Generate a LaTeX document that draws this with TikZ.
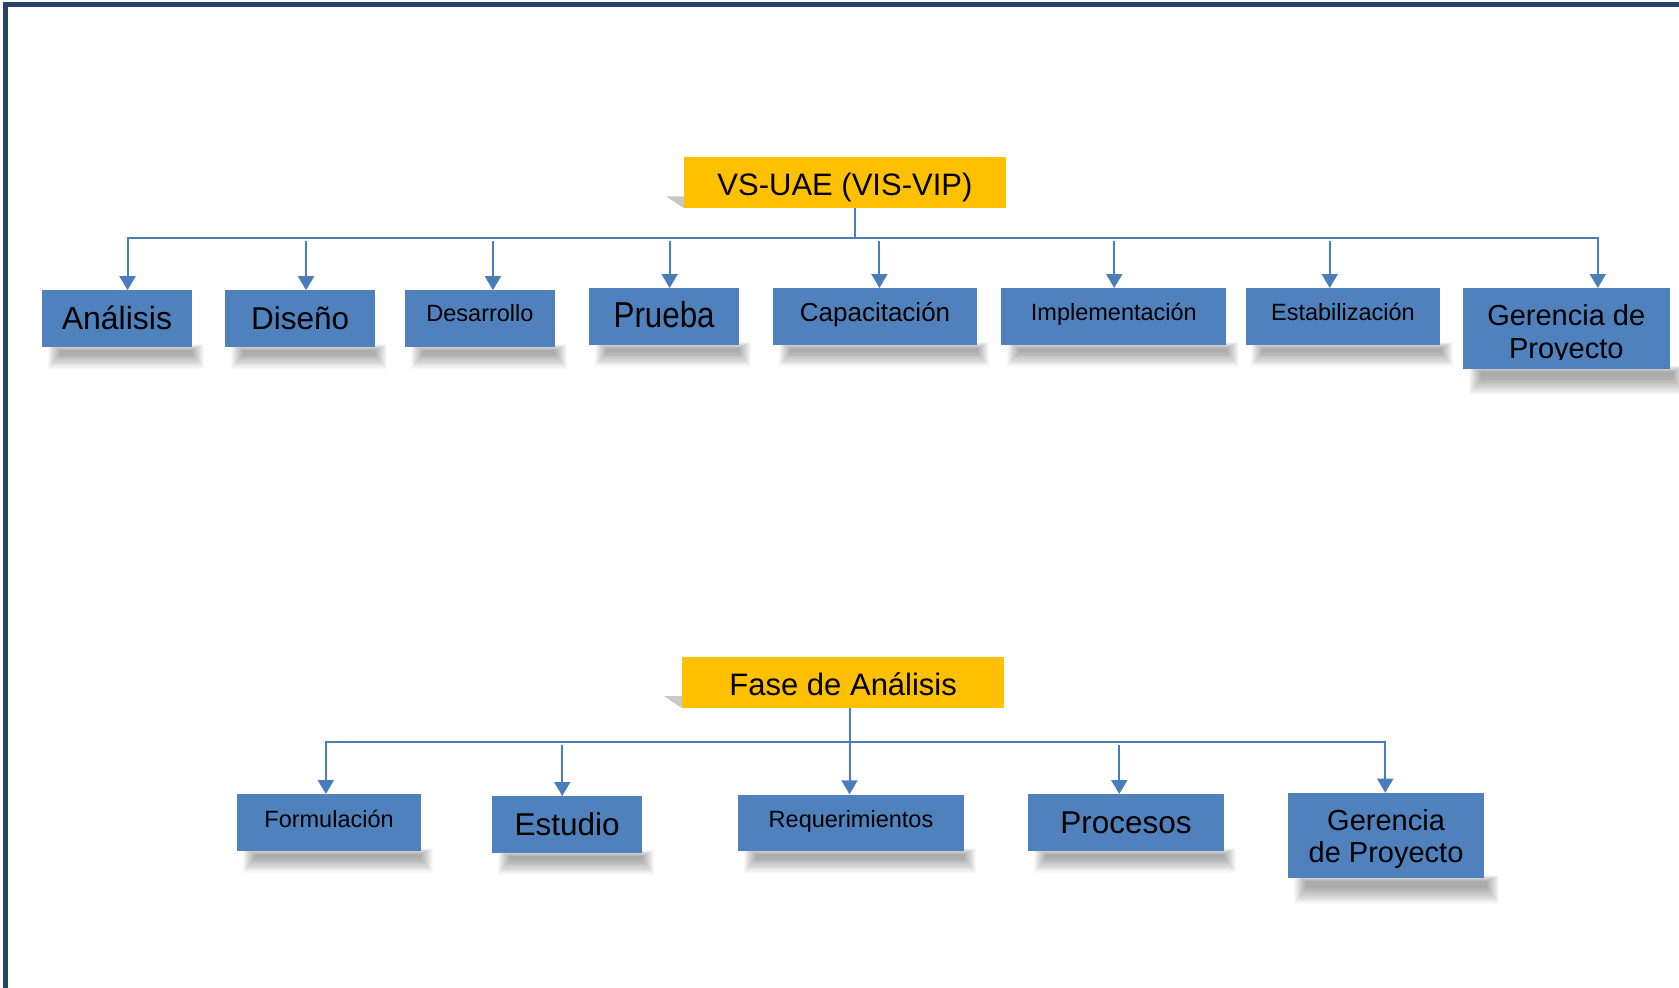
\documentclass[tikz,border=0pt]{standalone}
\usepackage{fontspec}
\setmainfont{Liberation Sans}
\usepackage{graphicx}
\usetikzlibrary{arrows.meta,backgrounds}

\definecolor{boxblue}{RGB}{79,129,189}
\definecolor{hdryellow}{RGB}{255,192,0}
\definecolor{linkblue}{RGB}{74,126,187}
\definecolor{framenavy}{RGB}{39,67,106}
\definecolor{cornergray}{RGB}{200,200,200}

\tikzset{
  box/.style={fill=boxblue, inner sep=0pt, anchor=north west, minimum height=56.7pt},
  hdr/.style={fill=hdryellow, inner sep=0pt, anchor=north west, minimum width=321.5pt, minimum height=51pt},
  txt/.style={inner sep=0pt, anchor=base, text=black},
  bigtxt/.style={txt, font=\fontsize{31.5}{37}\selectfont},
  smalltxt/.style={txt, font=\fontsize{23.5}{28}\selectfont},
  midtxt/.style={txt, font=\fontsize{26}{30}\selectfont},
  twotxt/.style={txt, font=\fontsize{29}{33}\selectfont},
  hdrtxt/.style={txt, font=\fontsize{31}{37}\selectfont},
  link/.style={draw=linkblue, line width=2pt},
  arr/.style={link, -{Triangle[width=16pt,length=14pt]}},
  shadowlayer/.style={fill=black, fill opacity=0.026},
}

\begin{document}
\begin{tikzpicture}[x=1pt, y=-1pt]
  \clip (0,0) rectangle (1679,988);

  % page frame, open to the right and bottom
  \draw[framenavy, line width=5pt] (5.8,1000) -- (5.8,4.5) -- (1700,4.5);

  % ---------- upper chart ----------
  \node[hdr] (vs) at (684,157) {};
  \node[hdrtxt] (vs-t) at ([yshift=-38pt]vs.north) {VS-UAE (VIS-VIP)};

  \node[box, minimum width=149.9pt] (ana) at (41.8,290.2) {};
  \node[box, minimum width=149.9pt] (dis) at (224.9,290.2) {};
  \node[box, minimum width=149.9pt] (des) at (404.8,290.2) {};
  \node[box, minimum width=149.9pt] (pru) at (589,288) {};
  \node[box, minimum width=203.5pt] (cap) at (773.1,288) {};
  \node[box, minimum width=224.9pt] (imp) at (1001.2,288) {};
  \node[box, minimum width=194.9pt] (est) at (1245.3,288) {};
  \node[box, minimum width=206.7pt, minimum height=80.4pt] (gp) at (1462.7,288) {};

  \node[bigtxt, font=\fontsize{32}{37}\selectfont] (ana-t) at ([yshift=-39pt]ana.north) {Análisis};
  \node[bigtxt] (dis-t) at ([yshift=-39pt]dis.north) {Diseño};
  \node[smalltxt] (des-t) at ([yshift=-31.7pt]des.north) {Desarrollo};
  \node[txt, font=\fontsize{36}{40}\selectfont] (pru-t) at ([yshift=-39.3pt]pru.north) {\scalebox{0.87}[1]{Prueba}};
  \node[midtxt] (cap-t) at ([yshift=-33.7pt]cap.north) {Capacitación};
  \node[smalltxt] (imp-t) at ([yshift=-32pt]imp.north) {Implementación};
  \node[smalltxt] (est-t) at ([yshift=-32pt]est.north) {Estabilización};
  \node[twotxt] (gp-t1) at ([yshift=-37pt]gp.north) {Gerencia de};
  \begin{scope}
    \clip (gp.north west) rectangle ([yshift=9pt]gp.south east);
    \node[twotxt] (gp-t2) at ([yshift=-70.3pt]gp.north) {Proyecto};
  \end{scope}

  % entry points of the upper connectors
  \coordinate (hubT) at (854.7,237.5);
  \coordinate (busT) at (0,241);
  \coordinate (ana-in) at ([xshift=10.6pt]ana.north);
  \coordinate (dis-in) at ([xshift=6pt]dis.north);
  \coordinate (des-in) at ([xshift=13pt]des.north);
  \coordinate (pru-in) at ([xshift=5.5pt]pru.north);
  \coordinate (cap-in) at ([xshift=4.4pt]cap.north);
  \coordinate (imp-in) at ([xshift=0.4pt]imp.north);
  \coordinate (est-in) at ([xshift=-13.2pt]est.north);
  \coordinate (gp-in) at ([xshift=31.6pt]gp.north);

  \draw[link] (vs.south -| hubT) -- (hubT);
  \draw[arr] (hubT) -| (ana-in);
  \draw[arr] (hubT) -| (gp-in);
  \foreach \n in {dis,des,pru,cap,imp,est}
    \draw[arr] (\n-in |- busT) -- (\n-in);

  % ---------- lower chart ----------
  \node[hdr, minimum width=322pt] (fase) at (682,656.7) {};
  \node[hdrtxt] (fase-t) at ([yshift=-38.3pt]fase.north) {Fase de Análisis};

  \node[box, minimum width=183.7pt] (for) at (237,794) {};
  \node[box, minimum width=149.7pt] (stu) at (492,796) {};
  \node[box, minimum width=225.8pt] (req) at (737.9,794.3) {};
  \node[box, minimum width=195.7pt] (pro) at (1028,794) {};
  \node[box, minimum width=195.7pt, minimum height=85pt] (gpb) at (1288,792.7) {};

  \node[smalltxt] (for-t) at ([yshift=-33.3pt]for.north) {Formulación};
  \node[bigtxt] (stu-t) at ([yshift=-39pt]stu.north) {Estudio};
  \node[smalltxt] (req-t) at ([yshift=-33pt]req.north) {Requerimientos};
  \node[bigtxt] (pro-t) at ([yshift=-39.3pt]pro.north) {Procesos};
  \node[twotxt] (gpb-t1) at ([yshift=-37.3pt]gpb.north) {Gerencia};
  \node[twotxt] (gpb-t2) at ([yshift=-70pt]gpb.north) {de Proyecto};

  % entry points of the lower connectors
  \coordinate (busB) at (0,742);
  \coordinate (busB2) at (0,744.5);
  \coordinate (for-in) at ([xshift=-3.2pt]for.north);
  \coordinate (stu-in) at ([xshift=-4.8pt]stu.north);
  \coordinate (req-in) at ([xshift=-1.5pt]req.north);
  \coordinate (pro-in) at ([xshift=-6.8pt]pro.north);
  \coordinate (gpb-in) at ([xshift=-0.8pt]gpb.north);
  \coordinate (hubB) at (req-in |- busB);

  \draw[arr] (fase.south -| req-in) -- (req-in);
  \draw[arr] (hubB) -| (for-in);
  \draw[arr] (hubB) -| (gpb-in);
  \foreach \n in {stu,pro}
    \draw[arr] (\n-in |- busB2) -- (\n-in);

  % ---------- soft shadows and page background ----------
  \begin{scope}[on background layer]
    \fill[white] (0,0) rectangle (1679,988);
    % soft band under each box, built from stacked translucent layers
    \foreach \n in {ana,dis,des,pru,cap,imp,est,for,stu,req,pro}
      \foreach \e in {0,...,12}
        \fill[shadowlayer]
          ([xshift={(18-\e)*1pt}, yshift={(-3+0.5*\e)*1pt}]\n.south west)
          rectangle ([xshift={(0+\e)*1pt}, yshift={(-7-1.2*\e)*1pt}]\n.south east);
    \foreach \n in {gp,gpb}
      \foreach \e in {0,...,12}
        \fill[shadowlayer]
          ([xshift={(18-\e)*1pt}, yshift={(-3+0.5*\e)*1pt}]\n.south west)
          rectangle ([xshift={(3+\e)*1pt}, yshift={(-10-1.3*\e)*1pt}]\n.south east);
    % corner shade of the heading boxes
    \foreach \n in {vs,fase}
      \fill[cornergray] ([xshift=-18pt,yshift=12pt]\n.south west)
        -- ([yshift=12pt]\n.south west) -- (\n.south west) -- cycle;
  \end{scope}
\end{tikzpicture}
\end{document}
